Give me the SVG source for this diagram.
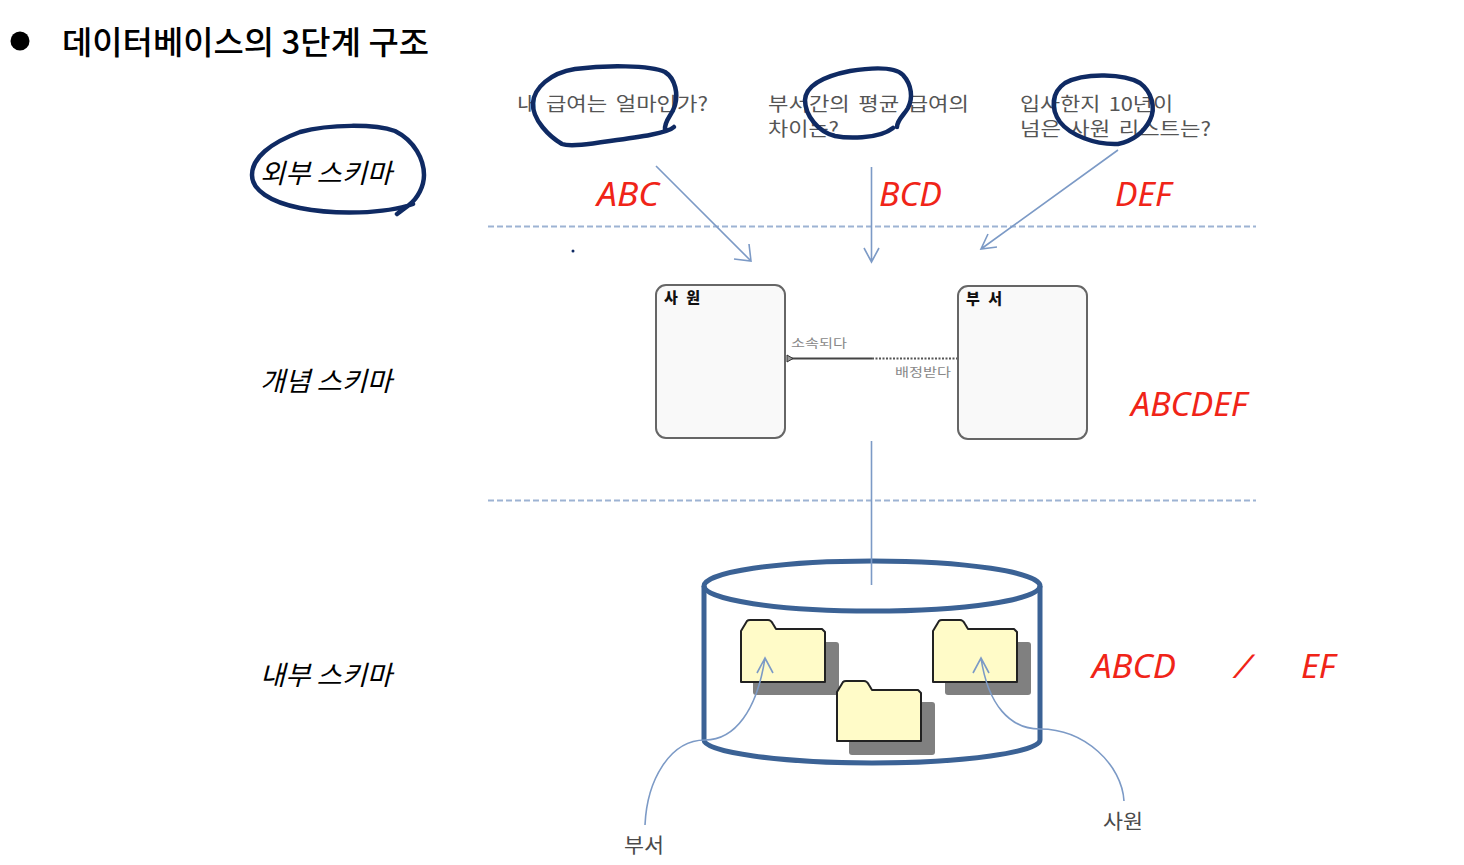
<svg xmlns="http://www.w3.org/2000/svg" width="1464" height="865" viewBox="0 0 1464 865">
<style>
text{font-family:"Noto Sans CJK KR","Noto Sans",sans-serif}
.ink{fill:none;stroke:#0f2a63;stroke-width:4.5;stroke-linecap:round;stroke-linejoin:round}
.q{font-size:19px;fill:#555;word-spacing:3px}
.lvl{font-size:27px;fill:#000;font-style:italic}
.red{font-family:"Noto Sans","Liberation Sans",sans-serif;font-size:33px;font-style:italic;fill:#f02418}
.dash{stroke:#9db3d3;stroke-width:2;stroke-dasharray:6 3;fill:none}
.arr{stroke:#7c9ac6;stroke-width:1.6;fill:none}
.ent{fill:#f9f9f9;stroke:#666;stroke-width:2}
.ann{font-size:12px;fill:#888}
.folder{fill:#fffbc8;stroke:#222;stroke-width:2;stroke-linejoin:round}
.shadow{fill:#808080}
.cyl{fill:none;stroke:#3b6295;stroke-width:5}
</style>
<rect width="1464" height="865" fill="#fff"/>
<g id="title">
<circle cx="20" cy="41" r="9.5" fill="#000"/>
<text x="62" y="54" font-size="32" font-weight="500" fill="#000" textLength="367" lengthAdjust="spacingAndGlyphs">데이터베이스의 3단계 구조</text>
</g>
<g id="level-labels">
<text class="lvl" x="260" y="183" textLength="132" lengthAdjust="spacingAndGlyphs">외부 스키마</text>
<text class="lvl" x="260" y="391" textLength="132" lengthAdjust="spacingAndGlyphs">개념 스키마</text>
<text class="lvl" x="260" y="685" textLength="132" lengthAdjust="spacingAndGlyphs">내부 스키마</text>
</g>
<g id="queries">
<text class="q" x="517" y="111" textLength="191" lengthAdjust="spacingAndGlyphs">내 급여는 얼마인가?</text>
<text class="q" x="768" y="111" textLength="201" lengthAdjust="spacingAndGlyphs">부서간의 평균 급여의</text>
<text class="q" x="768" y="136" textLength="71" lengthAdjust="spacingAndGlyphs">차이는?</text>
<text class="q" x="1020" y="111" textLength="153" lengthAdjust="spacingAndGlyphs">입사한지 10년이</text>
<text class="q" x="1020" y="136" textLength="191" lengthAdjust="spacingAndGlyphs">넘은 사원 리스트는?</text>
</g>
<g id="red-labels">
<text class="red" x="597" y="206" textLength="62" lengthAdjust="spacingAndGlyphs">ABC</text>
<text class="red" x="879" y="206" textLength="63" lengthAdjust="spacingAndGlyphs">BCD</text>
<text class="red" x="1115" y="206" textLength="56" lengthAdjust="spacingAndGlyphs">DEF</text>
<text class="red" x="1131" y="416" textLength="116" lengthAdjust="spacingAndGlyphs">ABCDEF</text>
<text class="red" x="1092" y="678" textLength="84" lengthAdjust="spacingAndGlyphs">ABCD</text>
<text class="red" transform="translate(1234 678) skewX(-16)" font-style="normal">/</text>
<text class="red" x="1301" y="678" textLength="34" lengthAdjust="spacingAndGlyphs">EF</text>
</g>
<g id="dividers">
<path class="dash" d="M488 226.500H1256"/>
<path class="dash" d="M488 500.500H1256"/>
</g>
<g id="entity-employee">
<rect class="ent" x="656" y="285" width="129" height="153" rx="10"/>
<text x="664" y="303" font-size="15" font-weight="900" fill="#111" textLength="36">사 원</text>
</g>
<g id="entity-department">
<rect class="ent" x="958" y="286" width="129" height="153" rx="10"/>
<text x="966" y="304" font-size="15" font-weight="900" fill="#111" textLength="36">부 서</text>
</g>
<g id="relationship">
<path d="M787 358.500H872" stroke="#444" stroke-width="2" fill="none"/>
<path d="M872 358.500H957" stroke="#555" stroke-width="2" stroke-dasharray="2 1.5" fill="none"/>
<path d="M787 355L793 358.500L787 362Z" fill="#999" stroke="#333"/>
<text class="ann" x="791" y="348" textLength="56" lengthAdjust="spacingAndGlyphs">소속되다</text>
<text class="ann" x="895" y="377" textLength="56" lengthAdjust="spacingAndGlyphs">배정받다</text>
</g>
<g id="database">
<path class="cyl" d="M704 586V740C704 752 780 763 872 763C964 763 1040 752 1040 740V586"/>
<ellipse class="cyl" cx="872" cy="586" rx="168" ry="25"/>
</g>
<g id="folder-1">
<rect class="shadow" x="753" y="642" width="86" height="53" rx="3"/>
<path class="folder" d="M741 682V631L747 621Q748 620 750 620H768Q771 620 773 624L776 629H822L825 632V682Z"/>
</g>
<g id="folder-2">
<rect class="shadow" x="849" y="702" width="86" height="53" rx="3"/>
<path class="folder" d="M837 741V692L843 682Q844 681 846 681H864Q867 681 869 685L872 690H918L921 693V741Z"/>
</g>
<g id="folder-3">
<rect class="shadow" x="945" y="642" width="86" height="53" rx="3"/>
<path class="folder" d="M933 682V631L939 621Q940 620 942 620H960Q963 620 965 624L968 629H1014L1017 632V682Z"/>
</g>
<g id="connectors">
<path class="arr" d="M656 166L751 261M749 244L751 261L734 259"/>
<path class="arr" d="M871.500 167V262M864 248L871.500 262L879 248"/>
<path class="arr" d="M1118 150L981 249M997 247L981 249L988 234"/>
<path class="arr" d="M871.500 441V585"/>
<path class="arr" d="M645 825C647 780 670 740 705 740C735 740 757 710 765 658M757 673L765 658L773 673"/>
<path class="arr" d="M1124 801C1122 765 1085 729 1040 729C1010 729 988 705 981 658M973 673L981 658L989 673"/>
</g>
<g id="db-labels">
<text x="624" y="853" font-size="20" fill="#4a4a4a" textLength="40" lengthAdjust="spacingAndGlyphs">부서</text>
<text x="1103" y="829" font-size="20" fill="#4a4a4a" textLength="40" lengthAdjust="spacingAndGlyphs">사원</text>
</g>
<g id="annotations">
<path class="ink" d="M674 127C668 133 640 137 610 141C590 144 570 147 562 144C550 137 532 120 533 103C534 88 550 73 575 69C605 65 650 65 665 72C676 79 678 95 675 105C672 116 664 120 665 130"/>
<path class="ink" d="M893 128C878 140 845 138 835 136C818 132 805 115 805 100C806 85 825 76 850 71C875 67 895 67 903 75C912 85 913 98 908 108C904 115 897 120 897 127"/>
<path class="ink" d="M1118 144C1095 145 1070 135 1060 122C1050 108 1052 92 1065 83C1085 72 1125 74 1140 83C1152 92 1156 108 1150 120C1143 134 1132 141 1118 144Z"/>
<path class="ink" d="M413 204C385 214 335 215 300 208C270 202 252 190 252 175C252 158 270 143 300 132C330 124 375 124 395 131C415 141 424 160 424 175C424 186 418 198 409 205L397 214" stroke-width="3.800"/>
<circle cx="573" cy="251" r="1.500" fill="#0f2a63"/>
</g>
</svg>
